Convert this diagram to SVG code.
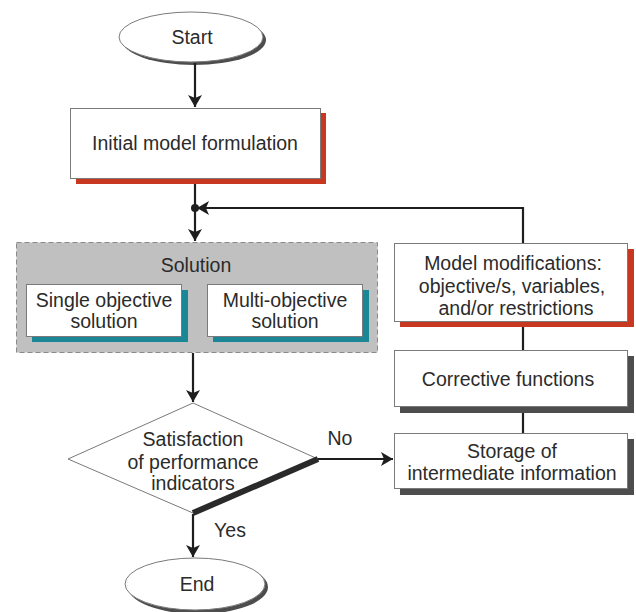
<svg xmlns="http://www.w3.org/2000/svg" width="636" height="612" viewBox="0 0 636 612">
<defs>
<style>
text{font-family:"Liberation Sans",Arial,sans-serif;font-size:19.5px;fill:#2b2b2b;text-anchor:middle}
.box{fill:#fff;stroke:#7a7a7a;stroke-width:1}
.red{fill:#c8371f}
.teal{fill:#1b8796}
.gray{fill:#4d4d4d}
.ln{fill:none;stroke:#1e1e1e;stroke-width:2.2}
</style>
<marker id="ah" viewBox="0 0 12 14" refX="12" refY="7" markerWidth="12" markerHeight="14" markerUnits="userSpaceOnUse" orient="auto">
<path d="M0,0 L12,7 L0,14 L3,7 Z" fill="#1e1e1e"/>
</marker>
</defs>
<rect width="636" height="612" fill="#fff"/>

<g id="start">
<ellipse cx="194" cy="40" rx="72" ry="25" class="gray"/>
<ellipse cx="191" cy="37" rx="72" ry="25" fill="#fff" stroke="#7a7a7a"/>
<text x="192" y="44">Start</text>
</g>

<g id="initial">
<rect x="76" y="113" width="250" height="71" class="red"/>
<rect x="70.5" y="108.5" width="250" height="70" class="box"/>
<text x="195" y="150">Initial model formulation</text>
</g>

<g id="solution">
<rect x="16.5" y="242.5" width="361" height="110" fill="#c0c0c0" stroke="#8a8a8a" stroke-dasharray="5,3"/>
<text x="196" y="272">Solution</text>
<g id="single">
<rect x="32" y="290" width="156" height="52" class="teal"/>
<rect x="26.5" y="284.5" width="155" height="52" class="box"/>
<text x="104" y="307">Single objective</text>
<text x="104" y="328">solution</text>
</g>
<g id="multi">
<rect x="213" y="290" width="156" height="52" class="teal"/>
<rect x="207.5" y="284.5" width="155" height="52" class="box"/>
<text x="285" y="307">Multi-objective</text>
<text x="285" y="328">solution</text>
</g>
</g>

<g id="decision">
<polygon points="193,403 318,459 193,513 68,459" fill="#fff" stroke="#7a7a7a"/>
<path d="M318,459 L193,513" fill="none" stroke="#2a2a2a" stroke-width="6"/>
<text x="193" y="446">Satisfaction</text>
<text x="193" y="469">of performance</text>
<text x="193" y="490">indicators</text>
</g>

<g id="end">
<ellipse cx="198" cy="587" rx="70" ry="27" class="gray"/>
<ellipse cx="195" cy="584" rx="70" ry="26" fill="#fff" stroke="#7a7a7a"/>
<text x="197" y="591">End</text>
</g>

<g id="modifications">
<rect x="400" y="249" width="234" height="78" class="red"/>
<rect x="394.5" y="243.5" width="233" height="78" class="box"/>
<text x="513" y="270">Model modifications:</text>
<text x="512" y="293">objective/s, variables,</text>
<text x="516" y="315">and/or restrictions</text>
</g>

<g id="corrective">
<rect x="400" y="356" width="234" height="57" class="gray"/>
<rect x="394.5" y="350.5" width="233" height="56" class="box"/>
<text x="508" y="386">Corrective functions</text>
</g>

<g id="storage">
<rect x="400" y="439" width="234" height="56" class="gray"/>
<rect x="394.5" y="433.5" width="233" height="55" class="box"/>
<text x="512" y="458">Storage of</text>
<text x="512" y="480">intermediate information</text>
</g>

<g id="connectors">
<path class="ln" d="M195,63 V107" marker-end="url(#ah)"/>
<path class="ln" d="M195,184 V241" marker-end="url(#ah)"/>
<path class="ln" d="M523,243 V208 H197" marker-end="url(#ah)"/>
<circle cx="195" cy="208" r="4" fill="#1e1e1e"/>
<path class="ln" d="M193,353 V402" marker-end="url(#ah)"/>
<path class="ln" d="M318,459 H393" marker-end="url(#ah)"/>
<path class="ln" d="M193,514 V557" marker-end="url(#ah)"/>
<path class="ln" d="M523,327 V350"/>
<path class="ln" d="M523,413 V433"/>
<text x="340" y="445">No</text>
<text x="230" y="537">Yes</text>
</g>
</svg>
